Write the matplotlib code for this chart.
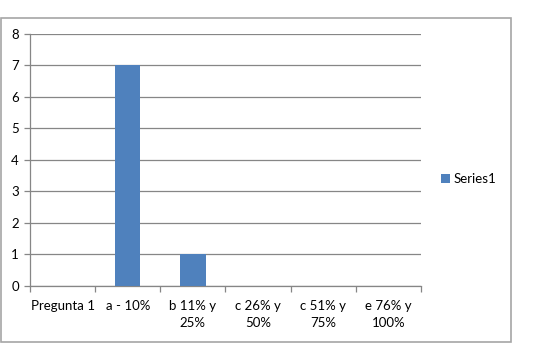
import matplotlib.pyplot as plt
from matplotlib.patches import Rectangle
import numpy as np

categories = ['Pregunta 1', 'a - 10%', 'b 11% y\n25%', 'c 26% y\n50%', 'c 51% y\n75%', 'e 76% y\n100%']
values = [0, 7, 1, 0, 0, 0]
series_name = 'Series1'

plt.rcParams['font.family'] = ['Lato', 'DejaVu Sans']

fig = plt.figure(figsize=(5.52, 3.43), dpi=100)
fig.patches.append(Rectangle((0.002, 0.004), 0.924, 0.944, transform=fig.transFigure,
                             fill=False, edgecolor='#a6a6a6', linewidth=1.2))

ax = fig.add_axes([0.0543, 0.1662, 0.7084, 0.7347])
x = np.arange(len(categories))
ax.bar(x, values, width=0.39, color='#4f81bd', label=series_name, zorder=3)

ax.set_xlim(-0.5, len(categories) - 0.5)
ax.set_ylim(0, 8)
ax.set_yticks(range(0, 9))
ax.yaxis.grid(True, color='#868686', linewidth=0.9, zorder=0)
ax.set_xticks(x)
ax.set_xticklabels(categories, fontsize=9.5, linespacing=1.5)
ax.set_xticks(np.arange(-0.5, len(categories)), minor=True)
ax.tick_params(axis='x', which='major', length=0, pad=10)
ax.tick_params(axis='x', which='minor', length=4, color='#868686', width=0.9)
ax.tick_params(axis='y', length=4, color='#868686', width=0.9, labelsize=9.5, pad=4)
for s in ['top', 'right']:
    ax.spines[s].set_visible(False)
for s in ['left', 'bottom']:
    ax.spines[s].set_color('#868686')
    ax.spines[s].set_linewidth(0.9)

ax.legend(loc='center left', bbox_to_anchor=(1.022, 0.425), frameon=False, fontsize=9.5,
          handlelength=0.65, handleheight=0.65, handletextpad=0.3)

fig.savefig('out.png', dpi=100)
